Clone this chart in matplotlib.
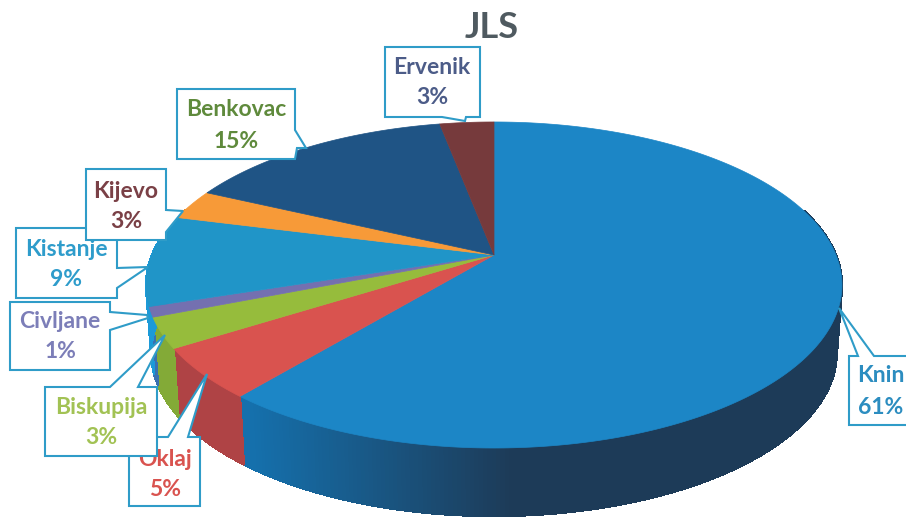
import numpy as np
import matplotlib
matplotlib.use("Agg")
import matplotlib.pyplot as plt
from matplotlib.patches import Polygon

# --- data ---
names = ["Knin", "Oklaj", "Biskupija", "Civljane", "Kistanje", "Kijevo", "Benkovac", "Ervenik"]
values = [61, 5, 3, 1, 9, 3, 15, 3]

# --- style ---
top_colors = ["#1C86C6", "#D9534F", "#96BC3C", "#7470B0", "#2095C8", "#F79A38", "#1F5485", "#763A3C"]
wall_left = ["#1570AC", "#B8474A", "#86AE38", "#3A70B0", "#1C9AD8", "#E08A30", "#1F4A75", "#6A3436"]
wall_right = ["#1D3B58", "#A63F40", "#7FA535", "#3A70B0", "#1C9AD8", "#E08A30", "#1F4A75", "#6A3436"]
text_colors = ["#2C8DC0", "#D9534F", "#A2C254", "#7C7EB8", "#2E9CCB", "#7A4046", "#5F8A3C", "#4C5C88"]
edge = "#2F9CC8"

# perspective view of the pie, in figure pixels
CX, CY, A, B, K, DEPTH, SHRINK = 494, 255, 342, 157.5, 0.184, 68, 0.985

def rim(theta, bottom=False):
    u, v = np.sin(theta), np.cos(theta)
    d = 1 + K * v
    s = SHRINK if bottom else 1.0
    return CX + s * A * u / d, CY - B * v / d + (DEPTH if bottom else 0)

fig = plt.figure(figsize=(9.06, 5.17), dpi=100)
ax = fig.add_axes([0, 0, 1, 1])
ax.set_xlim(0, 906)
ax.set_ylim(517, 0)
ax.axis("off")
plt.rcParams["font.family"] = ["Lato", "DejaVu Sans"]

shares = np.array(values, dtype=float) / sum(values)
edges = np.concatenate([[0], np.cumsum(shares)]) * 2 * np.pi

def hex2rgb(c):
    return np.array(matplotlib.colors.to_rgb(c))

# walls
for i in range(len(values)):
    th = np.linspace(edges[i], edges[i + 1], max(4, int(values[i] * 6)))
    for a, b in zip(th[:-1], th[1:]):
        if np.cos((a + b) / 2) > 0.3:
            continue
        xa, ya = rim(a)
        xb, yb = rim(b)
        xa2, ya2 = rim(a, True)
        xb2, yb2 = rim(b, True)
        t = np.clip((((xa + xb) / 2) - 250) / 260, 0, 1) if i == 0 else 0.5
        col = hex2rgb(wall_left[i]) * (1 - t) + hex2rgb(wall_right[i]) * t
        ax.add_patch(Polygon([(xa, ya), (xb, yb), (xb2, yb2), (xa2, ya2)],
                             closed=True, fc=col, ec=col, lw=1.0, antialiased=False, zorder=2))

# top slices
for i in range(len(values)):
    th = np.linspace(edges[i], edges[i + 1], max(8, int(values[i] * 6)))
    x, y = rim(th)
    pts = [(CX, CY)] + list(zip(x, y))
    ax.add_patch(Polygon(pts, closed=True, fc=top_colors[i], ec=top_colors[i], lw=0.5, zorder=3))

# callouts: outline vertices and the two text line positions
callouts = {
    "Knin": ([(849, 356), (858, 356), (839, 308), (874, 356), (915, 356), (915, 425), (849, 425)], 881, 375, 407),
    "Ervenik": ([(385, 47), (480, 47), (480, 117), (466, 117), (465, 121), (442, 117), (385, 117)], 432, 67, 98),
    "Benkovac": ([(177, 89), (295, 89), (295, 130), (306, 148), (297, 148), (295, 159), (177, 159)], 236, 109, 141),
    "Kistanje": ([(16, 228), (117, 228), (117, 268), (148, 267), (117, 288), (117, 298), (16, 298)], 66, 250, 280),
    "Kijevo": ([(86, 169), (166, 169), (166, 210), (183, 211), (166, 232), (166, 240), (86, 240)], 126, 191, 222),
    "Civljane": ([(10, 302), (110, 302), (110, 312), (147, 315), (148, 318), (110, 330), (110, 370), (10, 370)], 60, 322, 351),
    "Oklaj": ([(129, 437), (168, 437), (207, 374), (188, 437), (200, 437), (200, 506), (129, 506)], 165, 459, 489),
    "Biskupija": ([(45, 387), (110, 387), (165, 335), (138, 387), (157, 387), (157, 456), (45, 456)], 101, 407, 437),
}
for z, name in enumerate(callouts):
    i = names.index(name)
    verts, tx, y1, y2 = callouts[name]
    zz = 5 + z
    ax.add_patch(Polygon(verts, closed=True, fc="white", ec=edge, lw=1.5, zorder=zz))
    for txt, yy in ((name, y1), (f"{values[i]}%", y2)):
        ax.text(tx, yy, txt, color=text_colors[i], fontsize=16.5, fontweight="bold",
                ha="center", va="center", zorder=zz + 0.5)

ax.text(492, 27, "JLS", color="#4F5A60", fontsize=26, fontweight="bold", ha="center", va="center", zorder=20)

fig.savefig("out.png", dpi=100, facecolor="white")
